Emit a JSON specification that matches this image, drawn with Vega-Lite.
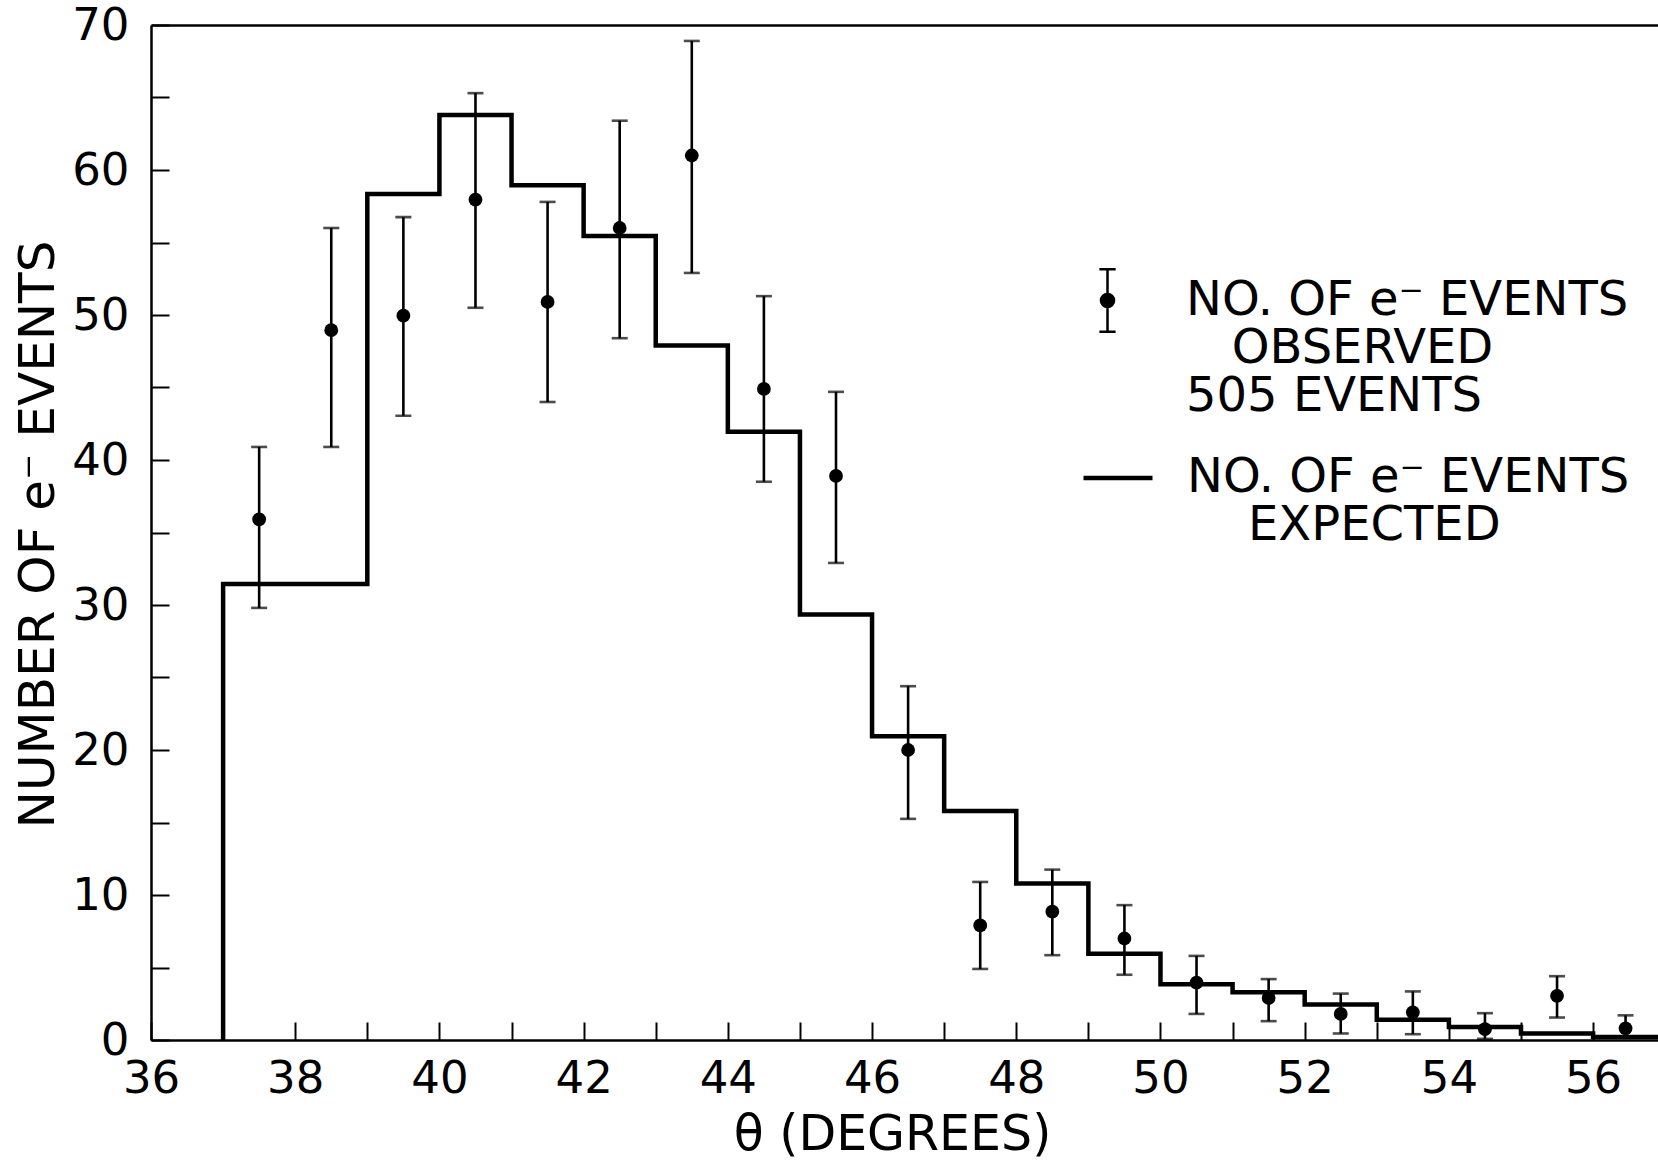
{
  "$schema": "https://vega.github.io/schema/vega-lite/v6.json",
  "width": 1507,
  "height": 1015,
  "autosize": {"type": "none"},
  "padding": {"left": 151, "top": 25, "right": 0, "bottom": 121},
  "background": "white",
  "datasets": {
    "expected": [
      {"edge": 37, "expected": 0},
      {"edge": 38, "expected": 31.45},
      {"edge": 39, "expected": 31.45},
      {"edge": 40, "expected": 58.35},
      {"edge": 41, "expected": 63.8},
      {"edge": 42, "expected": 58.95},
      {"edge": 43, "expected": 55.45},
      {"edge": 44, "expected": 47.9},
      {"edge": 45, "expected": 41.95},
      {"edge": 46, "expected": 29.35},
      {"edge": 47, "expected": 20.95},
      {"edge": 48, "expected": 15.8},
      {"edge": 49, "expected": 10.8},
      {"edge": 50, "expected": 5.95},
      {"edge": 51, "expected": 3.85},
      {"edge": 52, "expected": 3.3},
      {"edge": 53, "expected": 2.45},
      {"edge": 54, "expected": 1.4},
      {"edge": 55, "expected": 0.9},
      {"edge": 56, "expected": 0.45},
      {"edge": 57, "expected": 0.2}
    ],
    "observed": [
      {"theta": 37.5, "events": 35.9, "lo": 29.8, "hi": 40.9},
      {"theta": 38.5, "events": 48.95, "lo": 40.9, "hi": 56.0},
      {"theta": 39.5, "events": 49.95, "lo": 43.05, "hi": 56.75},
      {"theta": 40.5, "events": 57.95, "lo": 50.5, "hi": 65.3},
      {"theta": 41.5, "events": 50.9, "lo": 44.0, "hi": 57.8},
      {"theta": 42.5, "events": 56.0, "lo": 48.4, "hi": 63.4},
      {"theta": 43.5, "events": 61.0, "lo": 52.9, "hi": 68.9},
      {"theta": 44.5, "events": 44.9, "lo": 38.5, "hi": 51.3},
      {"theta": 45.5, "events": 38.9, "lo": 32.9, "hi": 44.7},
      {"theta": 46.5, "events": 20.0, "lo": 15.25, "hi": 24.4},
      {"theta": 47.5, "events": 7.9, "lo": 4.9, "hi": 10.9},
      {"theta": 48.5, "events": 8.85, "lo": 5.85, "hi": 11.75},
      {"theta": 49.5, "events": 7.0, "lo": 4.5, "hi": 9.3},
      {"theta": 50.5, "events": 3.95, "lo": 1.8, "hi": 5.8},
      {"theta": 51.5, "events": 2.9, "lo": 1.3, "hi": 4.2},
      {"theta": 52.5, "events": 1.8, "lo": 0.45, "hi": 3.2},
      {"theta": 53.5, "events": 1.9, "lo": 0.4, "hi": 3.35},
      {"theta": 54.5, "events": 0.75, "lo": 0.08, "hi": 1.85},
      {"theta": 55.5, "events": 3.05, "lo": 1.55, "hi": 4.4},
      {"theta": 56.45, "events": 0.8, "lo": 0.15, "hi": 1.7}
    ]
  },
  "layer": [
    {
      "data": {"name": "expected"},
      "mark": {"type": "line", "interpolate": "step-before", "strokeWidth": 4.5, "clip": true, "strokeJoin": "miter"},
      "encoding": {
        "x": {
          "field": "edge", "type": "quantitative",
          "scale": {"domain": [36, 56.9], "nice": false, "zero": false},
          "axis": {
            "orient": "bottom",
            "values": [36, 37, 38, 39, 40, 41, 42, 43, 44, 45, 46, 47, 48, 49, 50, 51, 52, 53, 54, 55, 56],
            "labelExpr": "datum.value % 2 === 0 ? datum.label : ''",
            "grid": false,
            "tickSize": -18, "tickWidth": 2, "tickColor": "black",
            "domainColor": "black", "domainWidth": 2.5,
            "labelFont": "DejaVu Sans", "labelFontSize": 45, "labelColor": "black",
            "labelPadding": 34, "labelFlush": false, "labelOverlap": false, "labelDx": 6,
            "title": "θ (DEGREES)",
            "titleFont": "DejaVu Sans", "titleFontSize": 49, "titleFontWeight": "normal", "titleColor": "black",
            "titleX": 741, "titleY": 94, "titleAlign": "center", "titleBaseline": "middle"
          }
        },
        "y": {
          "field": "expected", "type": "quantitative",
          "scale": {"domain": [0, 70], "nice": false, "zero": true},
          "axis": {
            "values": [0, 5, 10, 15, 20, 25, 30, 35, 40, 45, 50, 55, 60, 65, 70],
            "labelExpr": "datum.value % 10 === 0 ? datum.label : ''",
            "grid": false,
            "tickSize": -18, "tickWidth": 2, "tickColor": "black",
            "domainColor": "black", "domainWidth": 2.5,
            "labelFont": "DejaVu Sans", "labelFontSize": 45, "labelColor": "black",
            "labelPadding": 40, "labelFlush": false, "labelOverlap": false, "labelDy": 6,
            "title": "NUMBER OF e⁻ EVENTS",
            "titleFont": "DejaVu Sans", "titleFontSize": 50, "titleFontWeight": "normal", "titleColor": "black",
            "titleX": -113, "titleY": 509, "titleAngle": -90, "titleAlign": "center", "titleBaseline": "middle"
          }
        },
        "color": {
          "datum": "exp",
          "scale": {"domain": ["exp"], "range": ["black"]},
          "legend": {
            "orient": "none", "legendX": 930, "legendY": 416,
            "title": null, "padding": 0,
            "symbolType": "stroke", "symbolSize": 4761, "symbolStrokeWidth": 4.5, "symbolOpacity": 1,
            "labelFont": "DejaVu Sans", "labelFontSize": 48, "labelColor": "black",
            "labelOffset": 32, "labelLimit": 2000,
            "labelExpr": "['NO. OF e\u207b EVENTS', '\u200b\u00a0\u00a0\u00a0\u00a0EXPECTED']"
          }
        }
      }
    },
    {
      "data": {"name": "observed"},
      "mark": {"type": "rule", "strokeWidth": 2.6},
      "encoding": {
        "x": {
          "field": "theta", "type": "quantitative",
          "axis": {"orient": "top", "labels": false, "ticks": false, "domain": true, "domainColor": "black", "domainWidth": 2.5, "title": null, "grid": false}
        },
        "y": {"field": "lo", "type": "quantitative"},
        "y2": {"field": "hi"},
        "stroke": {
          "datum": "obs",
          "scale": {"domain": ["obs"], "range": ["black"]},
          "legend": {
            "orient": "none", "legendX": 924, "legendY": 243,
            "title": null, "padding": 0,
            "symbolType": "M0,-1L0,1M-0.26,-1L0.26,-1M-0.26,1L0.26,1M-0.21,0A0.21,0.21,0,1,0,0.21,0A0.21,0.21,0,1,0,-0.21,0Z",
            "symbolSize": 3900, "symbolStrokeWidth": 2.5, "symbolFillColor": "black", "symbolOpacity": 1,
            "labelFont": "DejaVu Sans", "labelFontSize": 48, "labelColor": "black",
            "labelOffset": 46, "labelLimit": 2000,
            "labelExpr": "['NO. OF e\u207b EVENTS', '\u200b\u00a0\u00a0\u00a0OBSERVED', '505 EVENTS']"
          }
        }
      }
    },
    {
      "data": {"name": "observed"},
      "mark": {"type": "tick", "orient": "horizontal", "color": "black", "thickness": 2.6, "size": 16},
      "encoding": {
        "x": {"field": "theta", "type": "quantitative", "axis": null},
        "y": {"field": "lo", "type": "quantitative"}
      }
    },
    {
      "data": {"name": "observed"},
      "mark": {"type": "tick", "orient": "horizontal", "color": "black", "thickness": 2.6, "size": 16},
      "encoding": {
        "x": {"field": "theta", "type": "quantitative", "axis": null},
        "y": {"field": "hi", "type": "quantitative"}
      }
    },
    {
      "data": {"name": "observed"},
      "mark": {"type": "point", "filled": true, "color": "black", "size": 190, "opacity": 1},
      "encoding": {
        "x": {"field": "theta", "type": "quantitative", "axis": null},
        "y": {"field": "events", "type": "quantitative"}
      }
    }
  ],
  "resolve": {"axis": {"x": "independent"}},
  "config": {
    "font": "DejaVu Sans",
    "view": {"stroke": null},
    "axis": {"grid": false},
    "style": {"guide-label": {"lineHeight": 48}}
  }
}
